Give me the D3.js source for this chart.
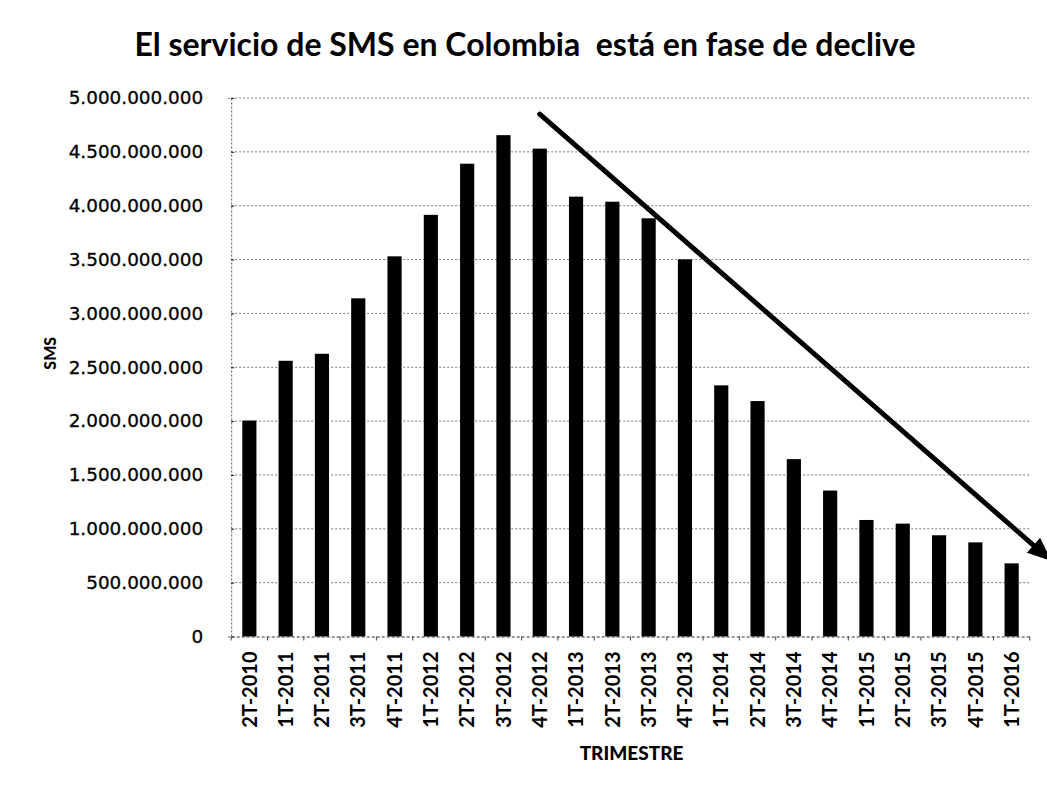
<!DOCTYPE html>
<html>
<head>
<meta charset="utf-8">
<script src="https://cdn.jsdelivr.net/npm/d3@7"></script>
<style>
  html, body { margin: 0; padding: 0; background: #fff; }
  svg { display: block; }
</style>
</head>
<body>
<svg id="chart" width="1047" height="788"></svg>
<script>
// Quarterly SMS traffic in Colombia
const quarters = [
  "2T-2010", "1T-2011", "2T-2011", "3T-2011", "4T-2011",
  "1T-2012", "2T-2012", "3T-2012", "4T-2012",
  "1T-2013", "2T-2013", "3T-2013", "4T-2013",
  "1T-2014", "2T-2014", "3T-2014", "4T-2014",
  "1T-2015", "2T-2015", "3T-2015", "4T-2015",
  "1T-2016"
];
const smsValues = [
  2005000000, 2560000000, 2625000000, 3140000000, 3530000000,
  3915000000, 4390000000, 4655000000, 4530000000,
  4084000000, 4037000000, 3883000000, 3502000000,
  2332000000, 2186000000, 1647000000, 1355000000,
  1082000000, 1048000000, 940000000, 874000000,
  679000000
];
const yTicks = [0, 500000000, 1000000000, 1500000000, 2000000000, 2500000000,
                3000000000, 3500000000, 4000000000, 4500000000, 5000000000];
// Trend arrow, in (quarter index, SMS) units
const trendStart = [8, 4850000000];
const trendEnd = [22.1, 700000000];

const titleText = "El servicio de SMS en Colombia  está en fase de declive";
const xTitle = "TRIMESTRE";
const yTitle = "SMS";

const svg = d3.select("#chart");
const plot = { left: 231.2, right: 1029.8, top: 98, bottom: 636.5 };

const x = d3.scaleBand().domain(quarters).range([plot.left, plot.right]).paddingInner(0.61).paddingOuter(0.305);
const y = d3.scaleLinear().domain([0, 5000000000]).range([plot.bottom, plot.top]);
const idx = d3.scaleLinear().domain([0, 1]).range([x(quarters[0]) + x.bandwidth() / 2, x(quarters[1]) + x.bandwidth() / 2]);

const es = d3.formatLocale({ decimal: ",", thousands: ".", grouping: [3], currency: ["$", ""] });
const fmt = es.format(",d");

// Title
svg.append("text")
  .attr("x", 525).attr("y", 56)
  .attr("text-anchor", "middle")
  .attr("font-family", "Lato, 'Open Sans', sans-serif")
  .attr("font-weight", "bold")
  .attr("font-size", 32)
  .attr("fill", "#000")
  .style("white-space", "pre")
  .text(titleText);

// Horizontal gridlines
svg.append("g")
  .selectAll("line")
  .data(yTicks.filter(d => d > 0))
  .join("line")
  .attr("x1", plot.left).attr("x2", plot.right)
  .attr("y1", d => y(d)).attr("y2", d => y(d))
  .attr("stroke", "#6a6a6a")
  .attr("stroke-width", 0.9)
  .attr("stroke-dasharray", "2,2");

// Y axis
const yAxis = svg.append("g")
  .attr("transform", `translate(${plot.left},0)`)
  .call(d3.axisLeft(y).tickValues(yTicks).tickFormat(fmt).tickSize(3).tickPadding(25));
yAxis.select(".domain").attr("stroke", "#555").attr("stroke-dasharray", "2,2");
yAxis.selectAll(".tick line").attr("stroke", "#222").attr("x2", 3);
yAxis.selectAll(".tick text")
  .attr("font-family", "'DejaVu Sans', sans-serif")
  .attr("font-size", 18.4)
  .attr("fill", "#000")
  .attr("stroke", "#000")
  .attr("stroke-width", 0.3);

// Bars
svg.append("g")
  .selectAll("rect")
  .data(quarters.map((q, i) => ({ q, v: smsValues[i] })))
  .join("rect")
  .attr("x", d => x(d.q))
  .attr("y", d => y(d.v))
  .attr("width", x.bandwidth())
  .attr("height", d => y(0) - y(d.v))
  .attr("fill", "#000");

// X axis (baseline with category separators)
const xAxis = svg.append("g")
  .attr("transform", `translate(0,${plot.bottom})`)
  .call(d3.axisBottom(x).tickSize(0).tickPadding(0));
xAxis.select(".domain").attr("stroke", "#333").attr("stroke-dasharray", "3,2").attr("stroke-width", 1);
xAxis.selectAll(".tick text")
  .attr("transform", "rotate(-90)")
  .attr("text-anchor", "end")
  .attr("x", -15)
  .attr("y", 0)
  .attr("dy", "0.36em")
  .attr("font-family", "Lato, 'Open Sans', sans-serif")
  .attr("font-weight", "bold")
  .attr("font-size", 20)
  .attr("fill", "#000");
svg.append("g")
  .selectAll("line")
  .data(d3.range(quarters.length + 1))
  .join("line")
  .attr("x1", i => plot.left + i * x.step()).attr("x2", i => plot.left + i * x.step())
  .attr("y1", plot.bottom).attr("y2", plot.bottom + 4)
  .attr("stroke", "#444").attr("stroke-width", 1);

// Axis titles
svg.append("text")
  .attr("x", (plot.left + plot.right) / 2 + 1).attr("y", 760)
  .attr("text-anchor", "middle")
  .attr("font-family", "Lato, 'Open Sans', sans-serif")
  .attr("font-weight", "900")
  .attr("font-size", 19)
  .attr("fill", "#000")
  .text(xTitle);

svg.append("text")
  .attr("transform", `translate(50,${(plot.top + plot.bottom) / 2 - 14}) rotate(-90)`)
  .attr("text-anchor", "middle")
  .attr("dy", "0.35em")
  .attr("font-family", "Lato, 'Open Sans', sans-serif")
  .attr("font-weight", "900")
  .attr("font-size", 16)
  .attr("fill", "#000")
  .text(yTitle);

// Trend arrow
const x0 = idx(trendStart[0]), y0 = y(trendStart[1]);
const x1 = idx(trendEnd[0]), y1 = y(trendEnd[1]);
const ang = Math.atan2(y1 - y0, x1 - x0);
const headLen = 24, headHalf = 10;
const bx = x1 - headLen * Math.cos(ang), by = y1 - headLen * Math.sin(ang);
svg.append("line")
  .attr("x1", x0).attr("y1", y0).attr("x2", bx).attr("y2", by)
  .attr("stroke", "#000").attr("stroke-width", 5).attr("stroke-linecap", "round");
svg.append("path")
  .attr("d", d3.line()([
    [x1, y1],
    [bx + headHalf * Math.sin(ang), by - headHalf * Math.cos(ang)],
    [bx - headHalf * Math.sin(ang), by + headHalf * Math.cos(ang)]
  ]) + "Z")
  .attr("fill", "#000");
</script>
</body>
</html>
